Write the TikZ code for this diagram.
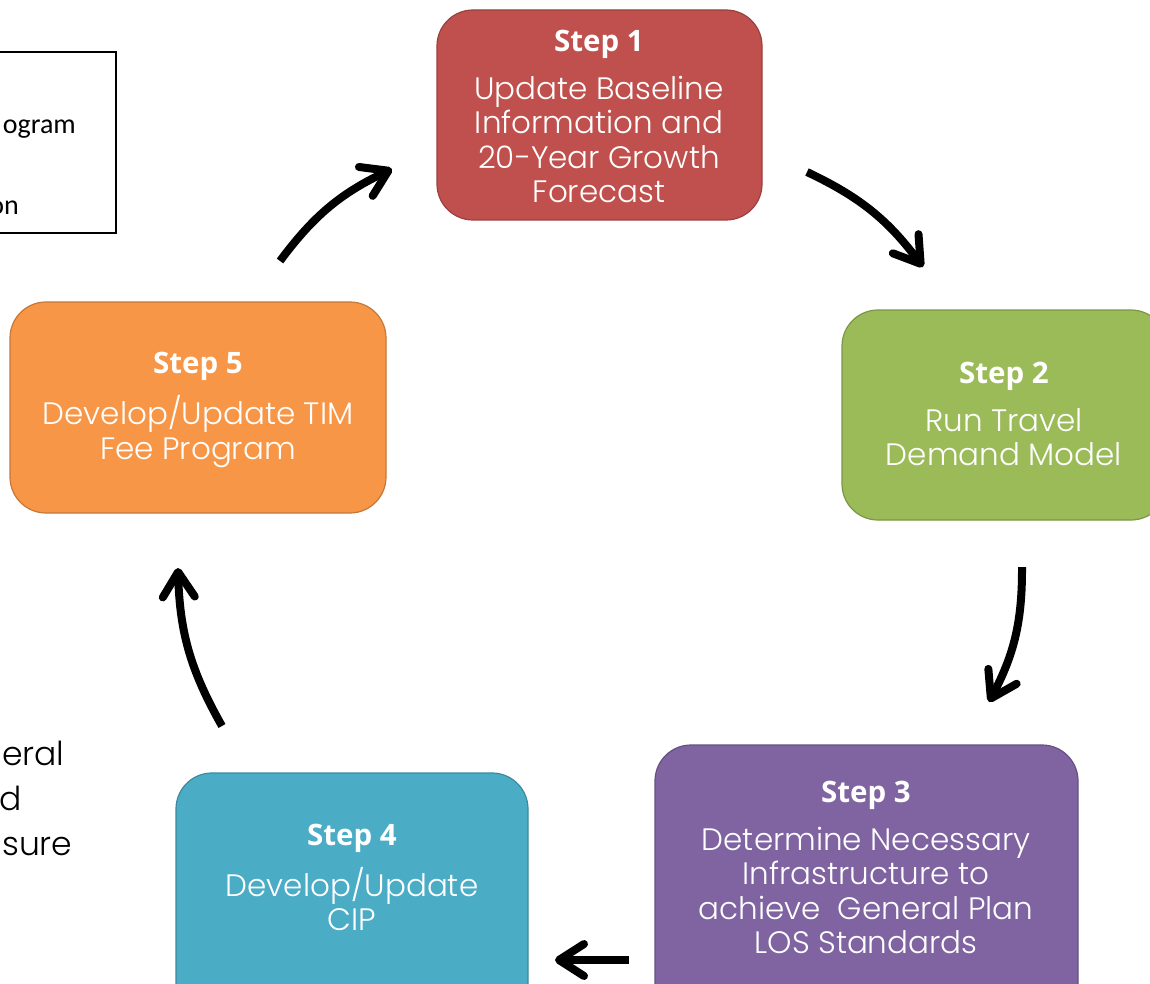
\documentclass[tikz,border=0pt]{standalone}
\usepackage{fontspec}
\setmainfont{Poppins Light}
\newfontfamily\headfont{Open Sans}
\newfontfamily\calfont{Carlito}
\usetikzlibrary{arrows.meta}
\definecolor{c1}{HTML}{C0504D}
\definecolor{c2}{HTML}{9BBB59}
\definecolor{c3}{HTML}{8064A2}
\definecolor{c4}{HTML}{4BACC6}
\definecolor{c5}{HTML}{F79646}
\tikzset{
  stepbox/.style={rounded corners=36pt, draw=#1!80!black, fill=#1, line width=1.2pt, inner sep=0pt},
  steptext/.style={text=white, align=center, inner sep=0pt, font=\fontsize{31}{34.5}\selectfont},
  flow/.style={line width=8pt, line cap=butt, -{Straight Barb[length=25pt,width=32pt,round]}, bend left=14},
  sidetext/.style={anchor=base west, inner sep=0pt, font=\fontsize{33}{40}\selectfont}
}
\newcommand{\stephead}[1]{{\headfont\bfseries\fontsize{29.5}{34.5}\selectfont #1}\\[13.5pt]}
\begin{document}
\begin{tikzpicture}[x=1pt,y=1pt]
\useasboundingbox (0,0) rectangle (1150,-984);
\fill[white] (0,0) rectangle (1150,-984);
\clip (0,0) rectangle (1150,-984);

% legend box (cut off on the left)
\node[draw, line width=1.3pt, minimum width=126pt, minimum height=181pt, inner sep=0pt] (legend) at (53,-142.5) {};
\node[anchor=base east, inner sep=0pt, font=\calfont\fontsize{28}{30}\selectfont] (lg1) at (76,-134) {ogram};
\node[anchor=base east, inner sep=0pt, font=\calfont\fontsize{28}{30}\selectfont] (lg2) at (19,-215) {on};

% side text (cut off on the left)
\node[sidetext] (sd1) at (2,-765) {eral};
\node[sidetext] (sd2) at (-1,-810) {d};
\node[sidetext] (sd3) at (2,-855) {sure};

% boxes
\node[stepbox=c1, minimum width=325pt, minimum height=210pt] (s1) at (599.5,-115) {};
\node[stepbox=c2, minimum width=325pt, minimum height=210pt] (s2) at (1004.5,-415) {};
\node[stepbox=c3, minimum width=423pt, minimum height=280pt] (s3) at (866.5,-885) {};
\node[stepbox=c4, minimum width=352pt, minimum height=260pt] (s4) at (352,-903) {};
\node[stepbox=c5, minimum width=376pt, minimum height=211pt] (s5) at (198,-407.5) {};

% texts
\node[steptext] (t1) at (599,-116.5) {\stephead{Step 1}Update Baseline\\Information and\\20-Year Growth\\Forecast};
\node[steptext] (t2) at (1004,-414) {\stephead{Step 2}Run Travel\\Demand Model};
\node[steptext] (t3) at (866,-867.5) {\stephead{Step 3}Determine Necessary\\Infrastructure to\\achieve\ \ General Plan\\LOS Standards};
\node[steptext] (t4) at (352,-877.5) {\stephead{Step 4}Develop/Update\\CIP};
\node[steptext] (t5) at (198,-410) {\stephead{Step 5}Develop/Update TIM\\Fee Program};

% arrow end points
\coordinate (a1s) at (280,-261);
\coordinate (a1e) at (392,-169);
\coordinate (a2s) at (807,-172);
\coordinate (a2e) at (923,-267);
\coordinate (a3s) at (1022,-567);
\coordinate (a3e) at (989,-702);
\coordinate (a4s) at (629,-960);
\coordinate (a4e) at (555,-960);
\coordinate (a5s) at (222,-726);
\coordinate (a5e) at (178,-568);

\draw[flow] (a1s) to (a1e);
\draw[flow] (a2s) to (a2e);
\draw[flow] (a3s) to (a3e);
\draw[flow, bend left=0] (a4s) to (a4e);
\draw[flow] (a5s) to (a5e);
\end{tikzpicture}
\end{document}
